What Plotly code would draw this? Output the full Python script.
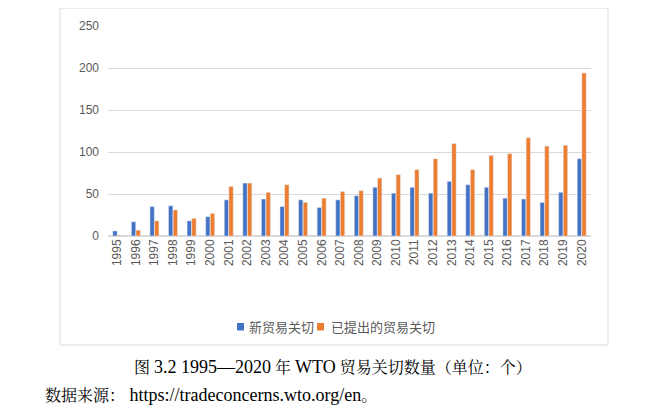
import plotly.graph_objects as go

years = [str(y) for y in range(1995, 2021)]
new_concerns = [6, 17, 35, 36, 18, 23, 43, 63, 44, 35, 43, 34, 43, 48, 58, 51, 58, 51, 65, 61, 58, 45, 44, 40, 52, 92]
raised_concerns = [1, 7, 18, 31, 21, 27, 59, 63, 52, 61, 40, 45, 53, 54, 69, 73, 79, 92, 110, 79, 96, 98, 117, 107, 108, 194]
series_names = ["新贸易关切", "已提出的贸易关切"]
series_colors = ["#4472C4", "#ED7D31"]
y_ticks = [0, 50, 100, 150, 200, 250]

OFF = 8  # page body margin
L, R, T, B = 108 - OFF, 591 - OFF, 26 - OFF, 236 - OFF
W, H = 660, 405
pw, ph = R - L, B - T

def px(x):
    return (x - OFF - L) / pw

def py(y):
    return (B - (y - OFF)) / ph

fig = go.Figure()
fig.add_bar(x=years, y=new_concerns, name=series_names[0], marker_color=series_colors[0])
fig.add_bar(x=years, y=raised_concerns, name=series_names[1], marker_color=series_colors[1])

fig.update_layout(
    width=W, height=H,
    margin=dict(l=L, r=W - R, t=T, b=H - B),
    paper_bgcolor="white", plot_bgcolor="white",
    barmode="group", bargap=0.5, bargroupgap=0.06,
    font=dict(family="Noto Sans CJK SC, DejaVu Sans, sans-serif", color="#595959"),
    showlegend=False,
)
fig.update_xaxes(type="category", tickangle=-90, tickfont=dict(size=12, color="#595959",
                 family="Liberation Sans, Arial, sans-serif"),
                 showgrid=False, showline=False, ticks="")
fig.update_yaxes(range=[0, 250], tickvals=y_ticks, showgrid=True, gridcolor="#D9D9D9",
                 gridwidth=1, zeroline=True, zerolinecolor="#D9D9D9", showline=False,
                 tickfont=dict(size=12, color="#595959", family="Liberation Sans, Arial, sans-serif"),
                 ticks="", ticklabelstandoff=8)

# outer chart frame
fig.add_shape(type="rect", xref="paper", yref="paper",
              x0=px(60), x1=px(608), y0=py(345), y1=py(8),
              line=dict(color="#D9D9D9", width=1), fillcolor="rgba(0,0,0,0)", layer="below")

# legend (manual, to match the tight Excel-style spacing)
legend_items = [(237, 248), (317, 330)]
for (sx, tx), name, col in zip(legend_items, series_names, series_colors):
    fig.add_shape(type="rect", xref="paper", yref="paper",
                  x0=px(sx), x1=px(sx + 7), y0=py(330.5), y1=py(323),
                  line=dict(width=0), fillcolor=col)
    fig.add_annotation(text=name, xref="paper", yref="paper", x=px(tx - 1), y=py(326.5),
                       xanchor="left", yanchor="middle", showarrow=False,
                       font=dict(size=13, color="#595959",
                                 family="Noto Sans CJK SC, DejaVu Sans, sans-serif"))

serif = "Liberation Serif, Times New Roman, Noto Serif CJK SC, Noto Sans CJK SC, serif"

def lat(s):
    return '<span style="font-size:18px">' + s + '</span>'

caption = "图 " + lat("3.2 1995—2020") + " 年 " + lat("WTO") + " 贸易关切数量（单位：个）"
source = "数据来源：" + lat(" https://tradeconcerns.wto.org/en") + "。"
fig.add_annotation(text=caption, xref="paper", yref="paper",
                   x=px(333), y=py(367), xanchor="center", yanchor="middle", showarrow=False,
                   font=dict(size=16, color="black", family=serif))
fig.add_annotation(text=source, xref="paper", yref="paper",
                   x=px(43), y=py(395), xanchor="left", yanchor="middle", showarrow=False,
                   font=dict(size=16, color="black", family=serif))

fig.write_html("out.html")
